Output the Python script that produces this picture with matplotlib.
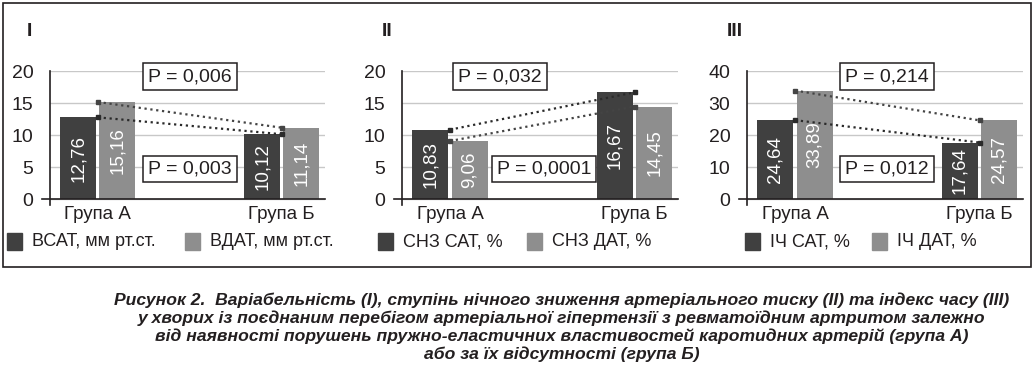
import matplotlib
matplotlib.use("Agg")
import matplotlib.pyplot as plt
from matplotlib.patches import Rectangle

plt.rcParams['font.family'] = ['Liberation Sans', 'DejaVu Sans']

# data
groups = ["Група А", "Група Б"]
panel_titles = ["I", "II", "III"]
series_names = [["ВСАТ, мм рт.ст.", "ВДАТ, мм рт.ст."],
                ["СНЗ САТ, %", "СНЗ ДАТ, %"],
                ["ІЧ САТ, %", "ІЧ ДАТ, %"]]
sys_vals = [[12.76, 10.12], [10.83, 16.67], [24.64, 17.64]]
dia_vals = [[15.16, 11.14], [9.06, 14.45], [33.89, 24.57]]
p_top = ["P = 0,006", "P = 0,032", "P = 0,214"]
p_bottom = ["P = 0,003", "P = 0,0001", "P = 0,012"]
y_max = [20, 20, 40]
y_step = [5, 5, 10]

caption = ("Рисунок 2.  Варіабельність (I), ступінь нічного зниження артеріального тиску (II) та індекс часу (III)\n"
           "у хворих із поєднаним перебігом артеріальної гіпертензії з ревматоїдним артритом залежно\n"
           "від наявності порушень пружно-еластичних властивостей каротидних артерій (група А)\n"
           "або за їх відсутності (група Б)")

W, H = 1034, 369
DARK = "#404040"
LIGHT = "#8e8e8e"
INK = "#231f20"

fig = plt.figure(figsize=(W / 100, H / 100), dpi=100)


def fx(px):
    return px / W


def fy(py):
    return 1 - py / H


# layout in pixels (left of y axis, right end of grid)
ax_left = [50, 402, 747]
ax_right = [325, 678, 1023]
title_x = [29, 387, 735]
p_top_x = [190, 500, 887]
p_bot_x = [190, 544, 887]
leg_sq = [[7, 185], [378, 527], [745, 872]]

# outer frame
fig.patches.append(Rectangle((fx(3), fy(267)), fx(1031) - fx(3), fy(3) - fy(267),
                             transform=fig.transFigure, fill=False, ec=INK, lw=1.2))

top_px, zero_px = 71, 199
for i in range(3):
    pad = y_max[i] * 0.045
    bottom_px = zero_px + (zero_px - top_px) * pad / y_max[i]
    ax = fig.add_axes([fx(ax_left[i]), fy(bottom_px), fx(ax_right[i]) - fx(ax_left[i]),
                       fy(top_px) - fy(bottom_px)])
    ax.set_ylim(-pad, y_max[i])
    ax.set_xlim(-0.26, 1.235)
    ax.set_yticks(range(0, y_max[i] + 1, y_step[i]))
    ax.set_xticks([0, 1])
    ax.set_xticklabels(groups)
    ax.tick_params(axis='x', length=0, pad=1, labelsize=13.5, labelcolor=INK)
    ax.tick_params(axis='y', length=0, pad=12, labelsize=14, labelcolor=INK)
    for s in ["top", "right", "bottom"]:
        ax.spines[s].set_visible(False)
    ax.spines["left"].set_color(INK)
    ax.spines["left"].set_linewidth(1.2)
    ax.yaxis.grid(True, color="#c8c8c8", lw=1)
    ax.set_axisbelow(True)
    ax.axhline(0, xmin=-0.028, xmax=1, color=INK, lw=1.2, clip_on=False, zorder=3)

    xs = [0, 1]
    w = 0.195
    b1 = ax.bar([x - 0.106 for x in xs], sys_vals[i], width=w, color=DARK, zorder=2)
    b2 = ax.bar([x + 0.106 for x in xs], dia_vals[i], width=w, color=LIGHT, zorder=2)
    for bars, vals in ((b1, sys_vals[i]), (b2, dia_vals[i])):
        for b, v in zip(bars, vals):
            ax.text(b.get_x() + b.get_width() / 2, v / 2, f"{v:.2f}".replace(".", ","),
                    rotation=90, ha="center", va="center", color="white", fontsize=13.5, zorder=4)

    ax.plot(xs, sys_vals[i], ls=":", color="#2a2a2a", lw=1.6, marker="s", ms=2.5, zorder=5)
    ax.plot(xs, dia_vals[i], ls=":", color="#444444", lw=1.6, marker="s", ms=2.5, zorder=5)

    fig.text(fx(title_x[i]), fy(31), panel_titles[i], ha="center", va="center",
             fontsize=14, fontweight="bold", color=INK)
    for px, py, txt in ((p_top_x[i], 76.5, p_top[i]), (p_bot_x[i], 169, p_bottom[i])):
        fig.text(fx(px), fy(py), txt, ha="center", va="center", fontsize=14, color=INK,
                 bbox=dict(boxstyle="square,pad=0.25", fc="white", ec=INK, lw=1.1))

    for sx, col, name in zip(leg_sq[i], (DARK, LIGHT), series_names[i]):
        fig.patches.append(Rectangle((fx(sx), fy(250)), fx(15), fy(233) - fy(250),
                                     transform=fig.transFigure, color=col))
        fig.text(fx(sx + 25), fy(242), name, ha="left", va="center", fontsize=13, color=INK)

fig.text(fx(562), fy(327), caption, ha="center", va="center", fontsize=12.6,
         fontweight="bold", style="italic", color=INK, linespacing=1.19)

fig.savefig("out.png", dpi=100)
